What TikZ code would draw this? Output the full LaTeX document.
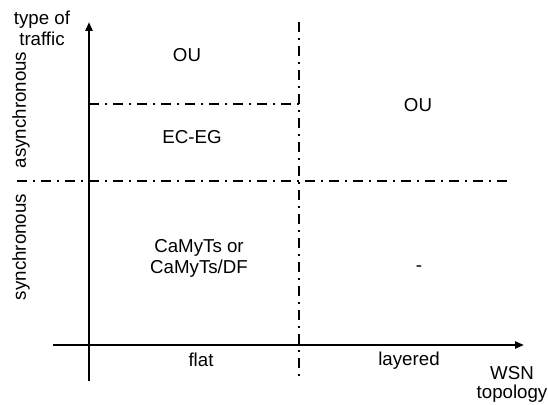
\documentclass[tikz,border=0pt]{standalone}
\usepackage{fontspec}
\setmainfont{Liberation Sans}
\usetikzlibrary{arrows.meta}
\begin{document}
\begin{tikzpicture}[x=1pt,y=-1pt,
  axis/.style={line width=2.2pt,-{Triangle[length=9pt,width=7pt]}},
  dd/.style={line width=2.2pt,dash pattern=on 10pt off 6pt on 2pt off 6pt},
  lbl/.style={font=\fontsize{18.7}{21}\selectfont,inner sep=0pt,align=center}]
\useasboundingbox (0,0) rectangle (548,404);
\coordinate (ybot) at (89,381);
\coordinate (ytop) at (89,22);
\coordinate (xl) at (53,345);
\coordinate (xr) at (524,345);
\coordinate (vt) at (299,22);
\coordinate (vb) at (299,377);
\coordinate (ul) at (89,104);
\coordinate (ur) at (299,104);
\coordinate (ml) at (17,181);
\coordinate (mr) at (510,181);
\draw[dd] (vt) -- (vb);
\draw[dd] (ul) -- (ur);
\draw[dd] (ml) -- (mr);
\draw[axis] (ybot) -- (ytop);
\draw[axis] (xl) -- (xr);
\node[lbl] (tt) at (42,28) {type of\\traffic};
\node[lbl,rotate=90] (as) at (21,110) {asynchronous};
\node[lbl,rotate=90] (sy) at (21,247) {synchronous};
\node[lbl] (ou1) at (187,55) {OU};
\node[lbl] (ec) at (192,137) {EC-EG};
\node[lbl] (ou2) at (418,105) {OU};
\node[lbl] (ca) at (199,258) {CaMyTs or\\CaMyTs/DF};
\node[lbl] (dash) at (419,269) {-};
\node[lbl] (fl) at (201,360) {flat};
\node[lbl] (la) at (409,361) {layered};
\node[lbl,font=\fontsize{18.7}{19}\selectfont] (ws) at (512,384) {WSN\\topology};
\end{tikzpicture}
\end{document}
